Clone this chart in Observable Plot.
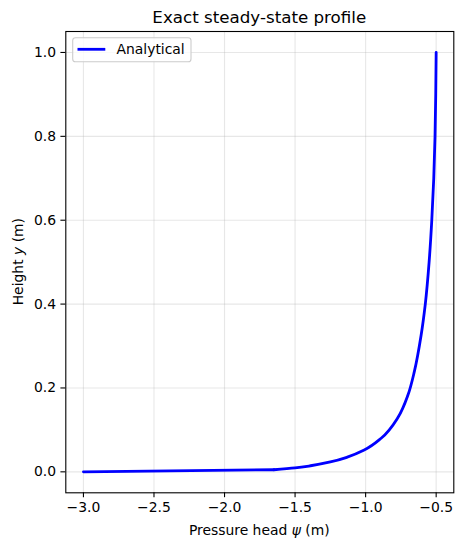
<!DOCTYPE html>
<html><head><meta charset="utf-8">
<script src="https://cdn.jsdelivr.net/npm/d3@7"></script>
<script src="https://cdn.jsdelivr.net/npm/@observablehq/plot@0.6"></script>
<style>body{margin:0;background:#fff;}</style>
</head><body><div id="chart"></div>
<script>
// Data
const psi    = [-3.00, -1.65, -1.50, -1.39, -1.25, -1.13, -1.01, -0.89, -0.77, -0.70, -0.654, -0.607, -0.577, -0.550, -0.531, -0.517, -0.508, -0.503, -0.500];
const height = [0.000, 0.005, 0.0095, 0.0145, 0.0235, 0.035, 0.052, 0.080, 0.130, 0.183, 0.240, 0.325, 0.400, 0.500, 0.600, 0.700, 0.800, 0.900, 1.000];
const xTicks = [-3.0, -2.5, -2.0, -1.5, -1.0, -0.5];
const yTicks = [0.0, 0.2, 0.4, 0.6, 0.8, 1.0];
const seriesName = "Analytical";
const titleText = "Exact steady-state profile";

const data = psi.map((p, i) => ({psi: p, y: height[i]}));
const W = 462, H = 549;
const mL = 65.3, mR = 8.7, mT = 31, mB = 56.7;
const font = "'DejaVu Sans', sans-serif";
const grid = {stroke: "#b0b0b0", strokeOpacity: 0.3, strokeWidth: 1.1};
const blue = "#0000ff";

const svg = Plot.plot({
  width: W, height: H,
  marginLeft: mL, marginRight: mR, marginTop: mT, marginBottom: mB,
  style: {fontFamily: font, fontSize: "13.9px", background: "#fff", color: "#000"},
  x: {domain: [-3.125, -0.375]},
  y: {domain: [-0.05, 1.05]},
  marks: [
    Plot.gridX(xTicks, grid),
    Plot.gridY(yTicks, grid),
    Plot.line(data.slice(0, 2), {x: "psi", y: "y", stroke: blue, strokeWidth: 2.8}),
    Plot.line(data.slice(1), {x: "psi", y: "y", stroke: blue, strokeWidth: 2.8, curve: "monotone-y"}),
    Plot.frame({stroke: "#000", strokeWidth: 1.1}),
    Plot.axisX(xTicks, {tickSize: 4.9, tickPadding: 4.2, tickFormat: d3.format(".1f"), label: null, strokeWidth: 1.1}),
    Plot.axisY(yTicks, {tickSize: 4.9, tickPadding: 4.9, tickFormat: d3.format(".1f"), label: null, strokeWidth: 1.1})
  ]
});

const s = d3.select(svg);
const cx = mL + (W - mL - mR) / 2;
const cy = mT + (H - mT - mB) / 2;

// Title
s.append("text").attr("x", cx).attr("y", 22.7).attr("text-anchor", "middle")
  .style("font-family", font).style("font-size", "16.7px").attr("fill", "#000").text(titleText);

// X label
const xl = s.append("text").attr("x", cx).attr("y", 535).attr("text-anchor", "middle")
  .style("font-family", font).style("font-size", "13.9px").attr("fill", "#000");
xl.append("tspan").text("Pressure head ");
xl.append("tspan").style("font-style", "italic").text("ψ");
xl.append("tspan").text(" (m)");

// Y label
const yl = s.append("text").attr("transform", `translate(23,${cy}) rotate(-90)`).attr("text-anchor", "middle")
  .style("font-family", font).style("font-size", "13.9px").attr("fill", "#000");
yl.append("tspan").text("Height ");
yl.append("tspan").style("font-style", "italic").text("y");
yl.append("tspan").text(" (m)");

// Legend
const lg = s.append("g");
lg.append("rect").attr("x", 72.7).attr("y", 37.7).attr("width", 118.3).attr("height", 24)
  .attr("rx", 2.8).attr("fill", "#fff").attr("fill-opacity", 0.8).attr("stroke", "#cccccc").attr("stroke-width", 1.1);
lg.append("line").attr("x1", 77.5).attr("x2", 105.3).attr("y1", 49.3).attr("y2", 49.3)
  .attr("stroke", blue).attr("stroke-width", 2.8);
lg.append("text").attr("x", 116.5).attr("y", 54.3).attr("text-anchor", "start")
  .style("font-family", font).style("font-size", "13.9px")
  .attr("fill", "#000").text(seriesName);

document.getElementById("chart").appendChild(svg);
</script>
</body></html>
